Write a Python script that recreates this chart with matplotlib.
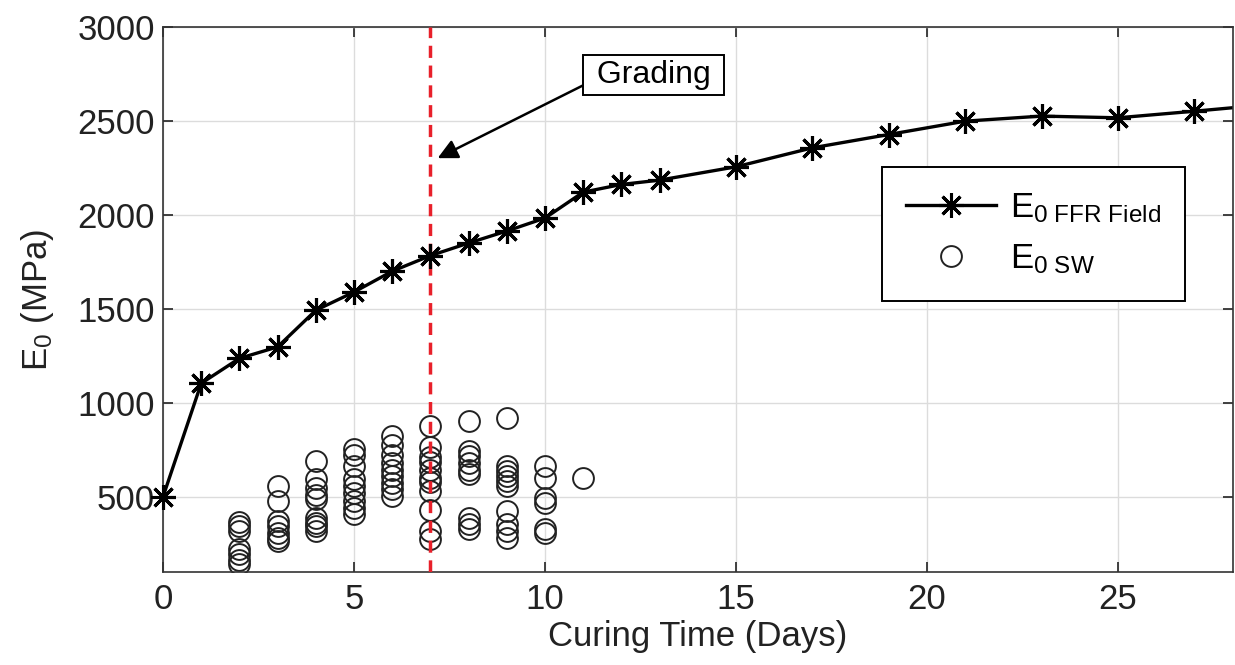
import numpy as np
import matplotlib
matplotlib.use("Agg")
import matplotlib.pyplot as plt

plt.rcParams['font.family'] = ['Liberation Sans', 'DejaVu Sans']
plt.rcParams['mathtext.fontset'] = 'custom'
plt.rcParams['mathtext.rm'] = 'Liberation Sans'
plt.rcParams['mathtext.it'] = 'Liberation Sans'

# E0 from FFR field test
ffr_days = [0, 1, 2, 3, 4, 5, 6, 7, 8, 9, 10, 11, 12, 13, 15, 17, 19, 21, 23, 25, 27, 29]
ffr_e0 = [500, 1104, 1237, 1298, 1493, 1590, 1701, 1784, 1851, 1915, 1984, 2122,
          2163, 2186, 2257, 2358, 2429, 2500, 2527, 2518, 2553, 2590]

# E0 from SW samples, per curing day
sw_days = ([2] * 7 + [3] * 7 + [4] * 9 + [5] * 9 + [6] * 9 + [7] * 11
           + [8] * 9 + [9] * 10 + [10] * 6 + [11])
sw_e0 = [365, 344, 317, 220, 193, 166, 140,
         556, 477, 370, 344, 308, 282, 264,
         689, 592, 548, 512, 486, 388, 362, 344, 317,
         752, 725, 663, 592, 556, 521, 477, 441, 406,
         822, 778, 725, 681, 645, 610, 574, 539, 503,
         875, 765, 710, 685, 640, 600, 580, 530, 432, 320, 275,
         902, 745, 716, 681, 645, 619, 388, 353, 326,
         920, 663, 636, 610, 583, 556, 423, 353, 317, 282,
         663, 601, 495, 468, 326, 308,
         601]

grading_day = 7
x_ticks = [0, 5, 10, 15, 20, 25]
y_ticks = [500, 1000, 1500, 2000, 2500, 3000]

fig = plt.figure(figsize=(12.35, 6.65), dpi=100)
ax = fig.add_axes([0.132, 0.140, 0.866, 0.819])

ax.set_xlim(0, 28)
ax.set_ylim(100, 3000)
ax.set_xticks(x_ticks)
ax.set_yticks(y_ticks)
ax.grid(True, color='#dcdcdc', linewidth=1.0)
ax.set_axisbelow(True)

star = (8, 2, 0)
ax.plot(ffr_days, ffr_e0, color='black', linewidth=2.4, marker=star,
        markersize=18, markeredgewidth=2.2, label=r'E$_{\mathregular{0\ FFR\ Field}}$')
vis = [(d, e) for d, e in zip(ffr_days, ffr_e0) if d <= 28]
ax.plot([v[0] for v in vis], [v[1] for v in vis], linestyle='none', color='black',
        marker=star, markersize=18, markeredgewidth=2.2, clip_on=False, zorder=4)

ax.plot(sw_days, sw_e0, linestyle='none', marker='o', markersize=15,
        markerfacecolor='none', markeredgecolor='#222222', markeredgewidth=1.4,
        label=r'E$_{\mathregular{0\ SW}}$')

ax.axvline(grading_day, color='#e8202a', linewidth=2.5, linestyle=(0, (3.5, 2.2)), zorder=3)

ax.annotate(' Grading ', xy=(7.19, 2303), xytext=(12.85, 2747),
            fontsize=23, ha='center', va='center',
            bbox=dict(boxstyle='square,pad=0.15', fc='white', ec='black', lw=1.4),
            arrowprops=dict(arrowstyle='-|>', color='black', lw=1.8, mutation_scale=30,
                            relpos=(0, 0.23), shrinkA=0, shrinkB=0))

leg = ax.legend(loc='upper left', bbox_to_anchor=(0.672, 0.743), borderaxespad=0,
                fontsize=25, handlelength=2.6, labelspacing=0.5, borderpad=0.7,
                handletextpad=0.4, fancybox=False, framealpha=1, edgecolor='black')
leg.get_frame().set_linewidth(1.4)

ax.tick_params(direction='in', length=7, width=1.2, top=True, right=True,
               labelsize=25, colors='#222222')
ax.tick_params(axis='x', pad=8)
ax.tick_params(axis='y', pad=6)
for s in ax.spines.values():
    s.set_color('#333333')
    s.set_linewidth(1.2)

ax.set_xlabel('Curing Time (Days)', fontsize=25, labelpad=3, color='#222222')
ax.set_ylabel(r'E$_\mathregular{0}$ (MPa)', fontsize=25, color='#222222')
ax.yaxis.set_label_coords(-0.1, 0.5)

fig.savefig('out.png', dpi=100)
